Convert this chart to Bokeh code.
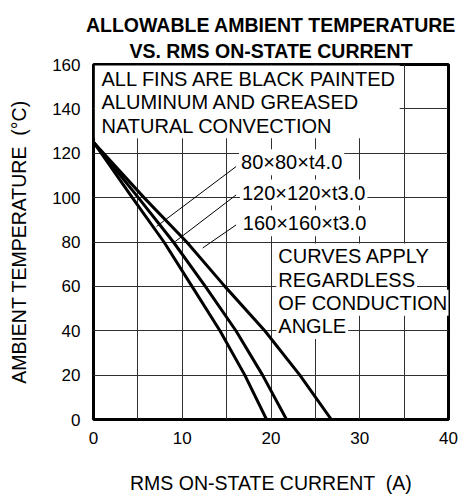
from bokeh.plotting import figure
from bokeh.models import Label, BoxAnnotation, FixedTicker, Range1d, Title
from bokeh.embed import file_html
from bokeh.resources import INLINE

# ---- data ----
temps = [125, 100, 80, 60, 40, 20, 0]
cur_80 = [0, 4.37, 7.94, 11.1, 14.25, 17.05, 19.5]
cur_120 = [0, 5.05, 9.0, 12.6, 16.05, 19.05, 21.75]
cur_160 = [0, 5.69, 10.5, 14.8, 19.3, 23.25, 26.8]

series_names = ["80×80×t4.0", "120×120×t3.0", "160×160×t3.0"]
label_x = [16.4, 16.5, 16.6]
label_y = [116.0, 102.3, 88.4]
leader_start = [(16.07, 114.0), (16.07, 101.2), (16.07, 87.7)]
leader_end = [(7.1, 87.0), (9.2, 80.2), (12.3, 77.3)]

x_ticks = [0, 10, 20, 30, 40]
y_ticks = [0, 20, 40, 60, 80, 100, 120, 140, 160]
x_grid = [5, 10, 15, 20, 25, 30, 35]
y_grid = [20, 40, 60, 80, 100, 120, 140]

title_lines = ["ALLOWABLE AMBIENT TEMPERATURE", "VS. RMS ON-STATE CURRENT"]
note_top = ["ALL FINS ARE BLACK PAINTED", "ALUMINUM AND GREASED", "NATURAL CONVECTION"]
note_mid = ["CURVES APPLY", "REGARDLESS", "OF CONDUCTION", "ANGLE"]
x_label = "RMS ON-STATE CURRENT \u00a0(A)"
y_label = "AMBIENT TEMPERATURE \u00a0(°C)"

FONT = "Liberation Sans"

p = figure(width=462, height=489, output_backend="svg", toolbar_location=None,
           x_range=Range1d(0, 40), y_range=Range1d(0, 160),
           frame_width=355, frame_height=355,
           min_border_left=93, min_border_right=14, min_border_top=64, min_border_bottom=70)
p.background_fill_color = "white"
p.border_fill_color = "white"
p.outline_line_color = "black"
p.outline_line_width = 3

# title (two lines, the lower one closest to the frame)
p.add_layout(Title(text=title_lines[1], align="center", text_font=FONT,
                   text_font_size="19.5px", text_font_style="bold",
                   text_color="black", standoff=5), "above")
p.add_layout(Title(text=title_lines[0], align="center", text_font=FONT,
                   text_font_size="19.5px", text_font_style="bold",
                   text_color="black", standoff=0), "above")

for ax in (p.xaxis, p.yaxis):
    ax.axis_line_color = None
    ax.major_tick_line_color = None
    ax.minor_tick_line_color = None
    ax.major_label_text_font = FONT
    ax.major_label_text_font_size = "17px"
    ax.major_label_text_color = "black"
    ax.axis_label_text_font = FONT
    ax.axis_label_text_font_size = "19.5px"
    ax.axis_label_text_font_style = "normal"
    ax.axis_label_text_color = "black"
p.xaxis.ticker = FixedTicker(ticks=x_ticks)
p.yaxis.ticker = FixedTicker(ticks=y_ticks)
p.xaxis.major_label_standoff = 6
p.yaxis.major_label_standoff = 7
p.xaxis.axis_label = x_label
p.yaxis.axis_label = y_label
p.xaxis.axis_label_standoff = 25
p.yaxis.axis_label_standoff = 19

p.xgrid.ticker = FixedTicker(ticks=x_grid)
p.ygrid.ticker = FixedTicker(ticks=y_grid)
for g in (p.xgrid, p.ygrid):
    g.grid_line_color = "#303030"
    g.grid_line_width = 1

# curves
for xs in (cur_80, cur_120, cur_160):
    p.line(xs, temps, line_color="black", line_width=3)

# leader lines
for (x0, y0), (x1, y1) in zip(leader_start, leader_end):
    p.line([x0, x1], [y0, y1], line_color="black", line_width=1)

# white area behind top note
p.add_layout(BoxAnnotation(left=0.15, right=34.5, bottom=126.8, top=159.6,
                           fill_color="white", fill_alpha=1, line_color=None))

def add_label(x, y, text, size="20px", bg=True):
    kw = dict(x=x, y=y, text=text, text_font=FONT, text_font_size=size,
              text_color="black", text_align="left", text_baseline="middle")
    if bg:
        kw.update(background_fill_color="white", background_fill_alpha=1, padding=2)
    p.add_layout(Label(**kw))

# top note
for i, t in enumerate(note_top):
    add_label(0.9, 153.4 - i * 10.5, t, bg=False)

# series labels
for t, lx, ly in zip(series_names, label_x, label_y):
    add_label(lx, ly, t)

# middle note
for i, t in enumerate(note_mid):
    add_label(20.6, 73.5 - i * 10.45, t)

open("out.html", "w").write(file_html(p, INLINE))
